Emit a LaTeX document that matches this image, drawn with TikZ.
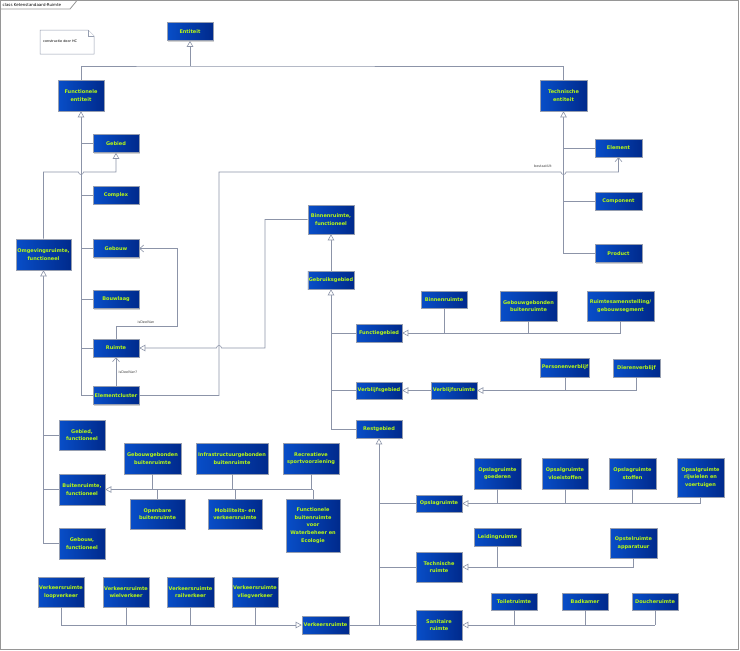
\documentclass[tikz,border=0pt]{standalone}
\usepackage{fontspec}
\setmainfont{DejaVu Sans}
\usetikzlibrary{arrows.meta,shadows,calc}
\definecolor{boxlinks}{RGB}{8,78,200}
\definecolor{boxrechts}{RGB}{0,42,140}
\definecolor{boxrand}{RGB}{150,158,176}
\definecolor{boxtekst}{RGB}{185,250,20}
\definecolor{lijnkleur}{RGB}{140,148,168}
\definecolor{kaderkleur}{RGB}{150,150,150}
\newcommand\klassefont{\fontsize{5}{7.6}\selectfont\bfseries}
\newcommand\rolfont{\fontsize{3.4}{4}\selectfont}
\newcommand\titelfont{\fontsize{4}{5}\selectfont}
\tikzset{
  klasse/.style={draw=boxrand, line width=0.6pt, left color=boxlinks, right color=boxrechts,
    text=boxtekst, font=\klassefont, align=center, inner sep=1pt,
    minimum width=46pt, minimum height=18pt,
    drop shadow={shadow xshift=1.2pt, shadow yshift=-1.2pt, fill=black!35, opacity=0.5}},
  lijn/.style={draw=lijnkleur, line width=0.6pt},
  gen/.style={lijn, -{Triangle[length=6pt,width=6.5pt,fill=white]}},
  assoc/.style={lijn, -{Straight Barb[length=4pt,width=7pt]}},
  rollabel/.style={font=\rolfont, text=black!75, inner sep=0.5pt},
  kader/.style={draw=kaderkleur, line width=0.8pt},
  notitie/.style={draw=boxrand, line width=0.5pt, fill=white},
}
\begin{document}
\begin{tikzpicture}[x=1pt,y=-1pt]
\useasboundingbox (0,0) rectangle (740,651);
\draw[kader] (0.5,0.5) rectangle (738.5,649.5);
\draw[kader] (0.5,9) -- (70,9) -- (77,0.5);
\node[anchor=west, font=\titelfont, inner sep=0pt] (titel) at (2.5,4.8) {class Ketenstandaard-Ruimte};

\draw[notitie] (40,30) -- (88,30) -- (94,36) -- (94,54) -- (40,54) -- cycle;
\draw[notitie] (88,30) -- (88,36) -- (94,36);
\node[anchor=west, font=\rolfont, inner sep=0pt] (noot) at (43,41.5) {constructie door HC};

% bovenste lagen
\node[klasse] (ent) at (190,31.5) {Entiteit};
\node[klasse, minimum height=31pt] (fe) at (81,95.5) {Functionele\\entiteit};
\node[klasse, minimum width=47pt, minimum height=31pt] (te) at (563.5,95.5) {Technische\\entiteit};

\node[klasse] (gebied) at (116,143.5) {Gebied};
\node[klasse] (complex) at (116,195) {Complex};
\node[klasse] (gebouw) at (116,248.5) {Gebouw};
\node[klasse] (bouwlaag) at (116,299.5) {Bouwlaag};
\node[klasse] (ruimte) at (116,348) {Ruimte};
\node[klasse] (elcl) at (116,395.5) {Elementcluster};
\node[klasse, minimum width=55pt, minimum height=31pt] (omgev) at (43.5,254.5) {Omgevingsruimte,\\functioneel};

\node[klasse, minimum width=47pt] (element) at (618.5,148) {Element};
\node[klasse, minimum width=47pt] (component) at (618.5,201) {Component};
\node[klasse, minimum width=47pt] (product) at (618.5,253.5) {Product};

% binnenruimte
\node[klasse, minimum height=29pt] (binnenf) at (331,219.5) {Binnenruimte,\\functioneel};
\node[klasse] (gebruik) at (331,280) {Gebruiksgebied};
\node[klasse] (functie) at (379,333) {Functiegebied};
\node[klasse, minimum height=17pt] (verblijfg) at (379,390.5) {Verblijfsgebied};
\node[klasse] (rest) at (379,429) {Restgebied};
\node[klasse, minimum height=17pt] (binnen) at (444,299.5) {Binnenruimte};
\node[klasse, minimum width=57pt, minimum height=30pt] (gebgeb) at (528.5,306) {Gebouwgebonden\\buitenruimte};
\node[klasse, minimum width=67pt, minimum height=30pt] (samenst) at (620.5,306) {Ruimtesamenstelling/\\gebouwsegment};
\node[klasse, minimum height=17pt] (verblijfr) at (454,390.5) {Verblijfsruimte};
\node[klasse, minimum height=19pt] (personen) at (565,367.5) {Personenverblijf};
\node[klasse, minimum width=47pt] (dieren) at (636.5,368) {Dierenverblijf};

% omgevingsruimte
\node[klasse, minimum height=30pt] (gebiedf) at (82,435) {Gebied,\\functioneel};
\node[klasse, minimum height=31pt] (buiten) at (82,489.5) {Buitenruimte,\\functioneel};
\node[klasse, minimum height=31pt] (gebouwf) at (82,543.5) {Gebouw,\\functioneel};
\node[klasse, minimum width=57pt, minimum height=31pt] (bgebgeb) at (152.5,458.5) {Gebouwgebonden\\buitenruimte};
\node[klasse, minimum width=72pt, minimum height=31pt] (infra) at (232,458.5) {Infrastructuurgebonden\\buitenruimte};
\node[klasse, minimum width=56pt, minimum height=31pt] (recr) at (311,458.5) {Recreatieve\\sportvoorziening};
\node[klasse, minimum width=55pt, minimum height=30pt] (openbaar) at (157.5,514) {Openbare\\buitenruimte};
\node[klasse, minimum width=54pt, minimum height=30pt] (mobil) at (235,514) {Mobiliteits- en\\verkeersruimte};
\node[klasse, minimum width=54pt, minimum height=53pt] (water) at (313,525.5) {Functionele\\buitenruimte\\voor\\Waterbeheer en\\Ecologie};

% restgebied
\node[klasse, minimum height=17pt] (opslag) at (439,503.5) {Opslagruimte};
\node[klasse, minimum height=30pt] (technr) at (439,567) {Technische\\ruimte};
\node[klasse, minimum height=30pt] (sanitair) at (439,625) {Sanitaire\\ruimte};
\node[klasse, minimum width=47pt] (verkeer) at (325.5,625) {Verkeersruimte};
\node[klasse, minimum width=47pt, minimum height=31pt] (goed) at (497.5,473.5) {Opslagruimte\\goederen};
\node[klasse, minimum height=31pt] (vloei) at (565,473.5) {Opsalgruimte\\vloeistoffen};
\node[klasse, minimum width=47pt, minimum height=31pt] (stof) at (632.5,473.5) {Opslagruimte\\stoffen};
\node[klasse, minimum width=47pt, minimum height=39pt] (rijw) at (700.5,477.5) {Opsalgruimte\\rijwielen en\\voertuigen};
\node[klasse, minimum width=47pt] (leiding) at (497.5,537) {Leidingruimte};
\node[klasse, minimum width=47pt, minimum height=30pt] (opstel) at (633.5,543) {Opstelruimte\\apparatuur};
\node[klasse, minimum height=17pt] (toilet) at (514,601.5) {Toiletruimte};
\node[klasse, minimum height=17pt] (bad) at (585,601.5) {Badkamer};
\node[klasse, minimum height=17pt] (douche) at (655,601.5) {Doucheruimte};
\node[klasse, minimum height=30pt] (loop) at (61,592) {Verkeersruimte\\loopverkeer};
\node[klasse, minimum height=30pt] (wiel) at (126,592) {Verkeersruimte\\wielverkeer};
\node[klasse, minimum width=47pt, minimum height=30pt] (rail) at (190.5,592) {Verkeersruimte\\railverkeer};
\node[klasse, minimum height=30pt] (vlieg) at (255,592) {Verkeersruimte\\vliegverkeer};

% generalisaties
\coordinate (entsplit) at (190,66);
\draw[lijn] (fe.north) |- (entsplit) -| (te.north);
\draw[gen] (entsplit) -- (ent.south);

\draw[gen] (elcl.west -| fe.south) -- (fe.south);
\foreach \n in {gebied,complex,gebouw,bouwlaag,ruimte,elcl}
  \draw[lijn] (\n.west) -- (\n.west -| fe.south);

\draw[gen] (product.west -| te.south) -- (te.south);
\foreach \n in {element,component,product}
  \draw[lijn] (\n.west) -- (\n.west -| te.south);

\coordinate (omgknik) at (43.5,172);
\draw[gen] (omgev.north) -- (omgknik) -- ($(fe.south |- omgknik)+(-2.5,0)$)
  arc[start angle=180, end angle=0, radius=2.5] -- (gebied.south |- omgknik) -- (gebied.south);

\draw[gen] (gebouwf.west -| omgev.south) -- (omgev.south);
\foreach \n in {gebiedf,buiten,gebouwf}
  \draw[lijn] (\n.west) -- (\n.west -| omgev.south);

\draw[gen] (water.north |- buiten.east) -- (buiten.east);
\foreach \n in {bgebgeb,infra,recr}
  \draw[lijn] (\n.south) -- (\n.south |- buiten.east);
\foreach \n in {openbaar,mobil,water}
  \draw[lijn] (\n.north) -- (\n.north |- buiten.east);

\coordinate (bestknik) at (219,172);
\coordinate (binknik) at (265,219.5);
\draw[gen] (binnenf.west) -- (binknik) -- (binknik |- ruimte.east) -- ($(bestknik |- ruimte.east)+(2.5,0)$)
  arc[start angle=0, end angle=-180, radius=2.5] -- (ruimte.east);

\draw[gen] (gebruik.north) -- (binnenf.south);
\draw[gen] (rest.west -| gebruik.south) -- (gebruik.south);
\foreach \n in {functie,verblijfg,rest}
  \draw[lijn] (\n.west) -- (\n.west -| gebruik.south);

\draw[gen] (samenst.south |- functie.east) -- (functie.east);
\foreach \n in {binnen,gebgeb,samenst}
  \draw[lijn] (\n.south) -- (\n.south |- functie.east);

\draw[gen] (verblijfr.west) -- (verblijfg.east);
\draw[gen] (dieren.south |- verblijfr.east) -- (verblijfr.east);
\foreach \n in {personen,dieren}
  \draw[lijn] (\n.south) -- (\n.south |- verblijfr.east);

\draw[gen] (verkeer.east -| rest.south) -- (rest.south);
\draw[lijn] (verkeer.east) -- (sanitair.west);
\foreach \n in {opslag,technr}
  \draw[lijn] (\n.west) -- (\n.west -| rest.south);

\draw[gen] (rijw.south |- opslag.east) -- (opslag.east);
\foreach \n in {goed,vloei,stof,rijw}
  \draw[lijn] (\n.south) -- (\n.south |- opslag.east);

\draw[gen] (opstel.south |- technr.east) -- (technr.east);
\foreach \n in {leiding,opstel}
  \draw[lijn] (\n.south) -- (\n.south |- technr.east);

\draw[gen] (douche.south |- sanitair.east) -- (sanitair.east);
\foreach \n in {toilet,bad,douche}
  \draw[lijn] (\n.south) -- (\n.south |- sanitair.east);

\draw[gen] (loop.south |- verkeer.west) -- (verkeer.west);
\foreach \n in {loop,wiel,rail,vlieg}
  \draw[lijn] (\n.south) -- (\n.south |- verkeer.west);

% associaties
\coordinate (deelknik) at (177,326);
\draw[assoc] (ruimte.north) |- (deelknik) |- (gebouw.east);
\node[rollabel] (ldeel) at (146,322) {isDeelVan};
\draw[assoc] (elcl.north) -- (ruimte.south);
\node[rollabel, anchor=west] (ldeelvraag) at (118,372) {isDeelVan?};
\draw[assoc] (elcl.east) -| (bestknik) -- ($(te.south |- bestknik)+(-2.5,0)$)
  arc[start angle=180, end angle=0, radius=2.5] -- (element.south |- bestknik) -- (element.south);
\node[rollabel] (lbestaat) at (543,166) {bestaatUit};
\end{tikzpicture}
\end{document}
